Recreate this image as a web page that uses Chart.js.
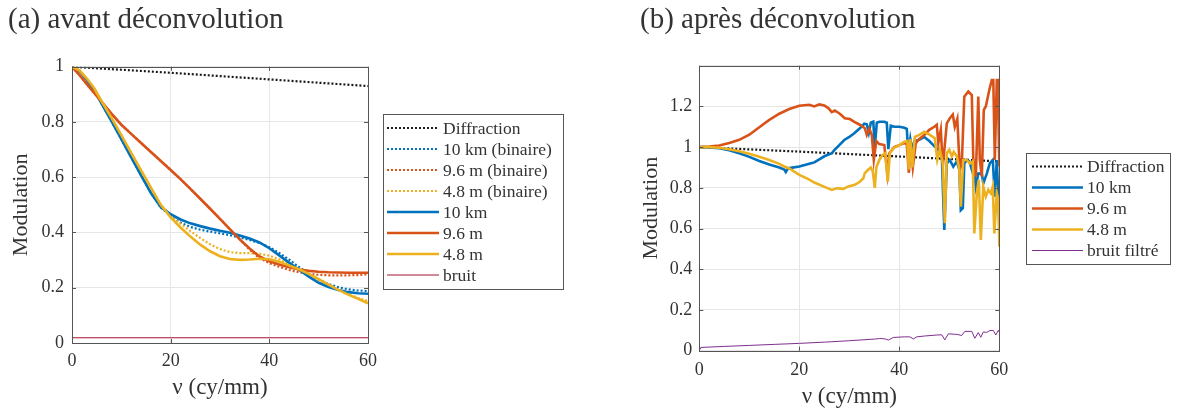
<!DOCTYPE html>
<html lang="fr">
<head>
<meta charset="utf-8">
<title>Modulation avant / après déconvolution</title>
<script src="https://cdn.jsdelivr.net/npm/chart.js@4.4.1/dist/chart.umd.min.js"></script>
<style>
  html, body { margin: 0; padding: 0; background: #fff; }
  #wrap { position: relative; width: 1180px; height: 408px; overflow: hidden; }
  .panel { position: absolute; top: 0; height: 408px; }
  #panelA { left: 0; width: 615px; }
  #panelB { left: 618px; width: 562px; }
</style>
</head>
<body>
<div id="wrap">
  <div class="panel" id="panelA"><canvas id="chartA"></canvas></div>
  <div class="panel" id="panelB"><canvas id="chartB"></canvas></div>
</div>
<script>
// ---- data (a) avant déconvolution ----
const diffX = [0, 10, 20, 30, 40, 50, 60];
const diffY = [1, 0.989, 0.978, 0.966, 0.954, 0.942, 0.930];

const leftX = [0, 1.5, 3, 4.5, 6, 8, 10, 12, 14, 16, 18, 20, 22, 24, 26, 28, 30, 32, 34, 36, 38, 40, 42, 44, 46, 48, 50, 52, 54, 56, 58, 60];
const a10kmBin = [1, 0.985, 0.952, 0.915, 0.866, 0.803, 0.738, 0.672, 0.607, 0.543, 0.49, 0.46, 0.436, 0.42, 0.41, 0.403, 0.397, 0.39, 0.382, 0.373, 0.362, 0.347, 0.326, 0.302, 0.275, 0.25, 0.23, 0.213, 0.202, 0.194, 0.19, 0.188];
const a96Bin   = [1, 0.97, 0.937, 0.905, 0.873, 0.83, 0.79, 0.757, 0.724, 0.691, 0.659, 0.626, 0.593, 0.558, 0.522, 0.486, 0.449, 0.412, 0.375, 0.338, 0.307, 0.289, 0.276, 0.264, 0.256, 0.25, 0.247, 0.245, 0.245, 0.245, 0.246, 0.249];
const a48Bin   = [1, 0.987, 0.957, 0.922, 0.875, 0.815, 0.752, 0.688, 0.625, 0.562, 0.5, 0.463, 0.432, 0.405, 0.38, 0.357, 0.34, 0.329, 0.325, 0.325, 0.323, 0.316, 0.303, 0.285, 0.266, 0.247, 0.228, 0.209, 0.192, 0.176, 0.163, 0.152];
const a10km    = [1, 0.985, 0.952, 0.915, 0.866, 0.803, 0.738, 0.672, 0.607, 0.543, 0.492, 0.466, 0.447, 0.433, 0.423, 0.414, 0.406, 0.399, 0.389, 0.378, 0.364, 0.343, 0.317, 0.291, 0.265, 0.24, 0.218, 0.203, 0.192, 0.184, 0.18, 0.178];
const a96      = [1, 0.97, 0.937, 0.905, 0.873, 0.83, 0.79, 0.757, 0.724, 0.691, 0.659, 0.626, 0.593, 0.558, 0.522, 0.486, 0.449, 0.412, 0.375, 0.342, 0.313, 0.296, 0.284, 0.274, 0.266, 0.261, 0.258, 0.256, 0.255, 0.254, 0.254, 0.254];
const a48      = [1, 0.987, 0.957, 0.922, 0.875, 0.815, 0.752, 0.688, 0.625, 0.562, 0.5, 0.455, 0.418, 0.385, 0.356, 0.332, 0.314, 0.304, 0.301, 0.302, 0.305, 0.303, 0.294, 0.281, 0.267, 0.25, 0.231, 0.211, 0.192, 0.175, 0.16, 0.144];
const noiseAX = [0, 60];
const noiseAY = [0.019, 0.019];

// ---- data (b) après déconvolution ----
const b10X = [0, 2, 4, 6, 8, 10, 12, 14, 16, 17, 17.3, 17.7, 18, 20, 22, 23, 24, 25, 26.5, 27, 28, 29, 30, 31, 32, 33, 33.5, 33.9, 34.3, 34.8, 35.1, 35.5, 36, 37, 37.5, 37.8, 38.3, 39, 40, 41, 41.5, 41.8, 42.2, 42.6, 43, 44, 45, 46, 47, 47.8, 48.5, 49, 49.5, 50.1, 50.8, 51.5, 52, 52.3, 52.7, 53, 53.5, 54, 54.5, 54.8, 55.3, 55.8, 56.5, 56.8, 57.5, 58.1, 58.7, 59.1, 59.5, 59.8, 60];
const b10Y = [1, 0.999, 0.995, 0.985, 0.97, 0.952, 0.932, 0.915, 0.9, 0.89, 0.878, 0.893, 0.897, 0.905, 0.918, 0.925, 0.94, 0.955, 0.97, 0.985, 1.01, 1.035, 1.05, 1.068, 1.09, 1.115, 1.112, 1.07, 1.12, 1.125, 1.0, 1.12, 1.125, 1.125, 1.12, 0.99, 1.105, 1.1, 1.1, 1.095, 1.09, 0.97, 1.04, 0.98, 1.03, 1.036, 1.05, 1.03, 1.005, 0.987, 0.96, 0.593, 0.92, 0.937, 0.904, 0.93, 0.89, 0.69, 0.7, 0.92, 0.937, 0.93, 0.89, 0.92, 0.806, 0.87, 0.871, 0.822, 0.87, 0.92, 0.937, 0.757, 0.937, 0.757, 0.626];

const b96X = [0, 2, 4, 6, 8, 10, 12, 14, 16, 18, 20, 22, 23, 24, 25, 25.8, 26.5, 27.1, 28.1, 29.1, 30.1, 31.1, 32.1, 33.1, 33.5, 34, 34.5, 34.9, 35.4, 36, 37, 37.6, 38, 39, 40, 41, 41.5, 41.9, 42.3, 42.7, 43.3, 44, 45, 46, 47, 47.5, 47.8, 48.3, 48.7, 49.5, 50.1, 50.7, 51.1, 51.6, 52.1, 52.5, 53, 53.8, 54.5, 54.8, 55.3, 55.8, 56.1, 56.5, 56.9, 57.3, 58, 58.5, 58.8, 59.1, 59.5, 59.7, 60];
const b96Y = [1, 1.003, 1.008, 1.02, 1.036, 1.061, 1.098, 1.134, 1.164, 1.187, 1.203, 1.208, 1.2, 1.21, 1.205, 1.192, 1.172, 1.18, 1.164, 1.142, 1.138, 1.123, 1.11, 1.093, 1.06, 1.09, 1.06, 0.938, 1.03, 1.015, 1.01, 0.87, 0.97, 1.0, 1.01, 1.02, 1.015, 0.874, 1.0, 0.9, 1.02, 1.04, 1.06, 1.085, 1.1, 1.11, 1.02, 1.085, 0.905, 1.117, 1.142, 1.16, 1.1, 1.14, 0.888, 0.92, 1.248, 1.273, 1.256, 0.937, 0.855, 1.248, 0.94, 0.855, 1.183, 1.2, 1.281, 1.33, 1.33, 0.937, 1.33, 1.33, 0.905];

const b48X = [0, 2, 4, 6, 8, 10, 12, 14, 16, 17, 18, 20, 22, 23, 24.8, 26.5, 27.5, 28.8, 29.8, 31.1, 32.1, 32.8, 33.1, 33.8, 34.3, 34.7, 35.1, 35.4, 36, 36.6, 37.2, 37.7, 38.1, 38.8, 40, 41, 41.6, 41.9, 42.2, 42.6, 43.1, 44, 45, 46.1, 47.1, 47.6, 48.1, 48.7, 49.1, 49.5, 50, 50.5, 50.9, 51.5, 52, 52.3, 52.8, 53.5, 54.1, 54.7, 55, 55.5, 55.9, 56.3, 56.8, 57.3, 57.8, 58.3, 58.7, 59, 59.5, 59.8, 60];
const b48Y = [1, 1, 0.997, 0.99, 0.98, 0.968, 0.953, 0.937, 0.918, 0.905, 0.895, 0.864, 0.84, 0.826, 0.807, 0.79, 0.798, 0.795, 0.807, 0.815, 0.83, 0.847, 0.872, 0.89, 0.9, 0.88, 0.8, 0.9, 0.937, 0.96, 0.97, 0.83, 0.97, 0.995, 1.01, 1.027, 1.03, 0.89, 1.04, 0.9, 1.05, 1.06, 1.075, 1.06, 1.044, 0.937, 0.987, 0.92, 0.626, 0.97, 0.987, 0.955, 0.977, 0.955, 0.89, 0.708, 0.937, 0.937, 0.92, 0.93, 0.576, 0.773, 0.839, 0.544, 0.806, 0.757, 0.79, 0.773, 0.806, 0.576, 0.773, 0.74, 0.511];

const noiseBX = [0, 0.3, 5, 10, 15, 20, 25, 30, 35, 36.1, 37.2, 37.8, 38.8, 41, 42.1, 42.8, 43.5, 45, 47.5, 48.5, 49.1, 49.8, 51.5, 52.5, 53.1, 54.5, 55.1, 55.8, 56.3, 56.8, 57.5, 58.1, 58.8, 59.3, 59.8, 60];
const noiseBY = [0, 0.016, 0.021, 0.026, 0.031, 0.036, 0.042, 0.049, 0.057, 0.06, 0.058, 0.052, 0.065, 0.068, 0.068, 0.058, 0.068, 0.072, 0.077, 0.078, 0.053, 0.083, 0.08, 0.075, 0.095, 0.095, 0.061, 0.089, 0.066, 0.092, 0.09, 0.099, 0.1, 0.077, 0.1, 0.09];

const BLUE = '#0072BD', RED = '#D95319', YELLOW = '#EDB120', DARKRED = '#A2142F', PURPLE = '#7E2F8E';
const TEXT = '#333333';
const SERIF = "'Liberation Serif', 'DejaVu Serif', serif";
const DOT = [2, 2];

Chart.defaults.font.family = SERIF;
Chart.defaults.color = TEXT;

function pts(xs, ys) {
  return xs.map((x, i) => ({ x: x, y: ys[i] }));
}

function line(label, xs, ys, color, width, dash) {
  return {
    label: label,
    data: pts(xs, ys),
    borderColor: color,
    borderWidth: width,
    borderDash: dash || [],
    borderCapStyle: 'butt',
    pointRadius: 0,
    fill: false,
    tension: 0
  };
}

// axes box with inward ticks, drawn over the curves
const frameBox = {
  id: 'frameBox',
  afterDatasetsDraw(chart) {
    const { ctx, chartArea: a, scales } = chart;
    const len = 4;
    ctx.save();
    ctx.strokeStyle = '#555';
    ctx.lineWidth = 1;
    ctx.strokeRect(Math.round(a.left) + 0.5, Math.round(a.top) + 0.5,
      Math.round(a.right - a.left), Math.round(a.bottom - a.top));
    ctx.beginPath();
    scales.x.ticks.forEach(t => {
      const px = Math.round(scales.x.getPixelForValue(t.value)) + 0.5;
      ctx.moveTo(px, a.bottom); ctx.lineTo(px, a.bottom - len);
      ctx.moveTo(px, a.top); ctx.lineTo(px, a.top + len);
    });
    scales.y.ticks.forEach(t => {
      const py = Math.round(scales.y.getPixelForValue(t.value)) + 0.5;
      ctx.moveTo(a.left, py); ctx.lineTo(a.left + len, py);
      ctx.moveTo(a.right, py); ctx.lineTo(a.right - len, py);
    });
    ctx.stroke();
    ctx.restore();
  }
};

// MATLAB-like boxed legend beside the axes
const boxLegend = {
  id: 'boxLegend',
  afterDraw(chart, args, o) {
    const ctx = chart.ctx;
    const sets = chart.data.datasets;
    ctx.save();
    ctx.font = o.fontSize + 'px ' + SERIF;
    let maxW = 0;
    sets.forEach(ds => { maxW = Math.max(maxW, ctx.measureText(ds.label).width); });
    const w = Math.round(o.textX + maxW + o.padRight);
    const h = Math.round(sets.length * o.rowH + o.padY * 2);
    ctx.fillStyle = '#fff';
    ctx.fillRect(o.x, o.y, w, h);
    ctx.strokeStyle = '#555';
    ctx.lineWidth = 1;
    ctx.strokeRect(o.x + 0.5, o.y + 0.5, w, h);
    sets.forEach((ds, i) => {
      const cy = o.y + o.padY + o.rowH * (i + 0.5);
      ctx.beginPath();
      ctx.setLineDash(ds.borderDash);
      ctx.lineWidth = ds.borderWidth;
      ctx.strokeStyle = ds.borderColor;
      ctx.moveTo(o.x + o.lineX0, cy);
      ctx.lineTo(o.x + o.lineX1, cy);
      ctx.stroke();
      ctx.setLineDash([]);
      ctx.fillStyle = TEXT;
      ctx.textBaseline = 'middle';
      ctx.fillText(ds.label, o.x + o.textX, cy + 1);
    });
    ctx.restore();
  }
};

function makeOptions(p) {
  return {
    responsive: true,
    maintainAspectRatio: false,
    animation: false,
    layout: { padding: { left: p.padLeft, right: p.padRight, top: 0, bottom: 0 } },
    plugins: {
      legend: { display: false },
      tooltip: { enabled: false },
      title: {
        display: true,
        text: p.title,
        align: 'start',
        color: TEXT,
        font: { size: 29, weight: 'normal', lineHeight: 1.2 },
        padding: { top: 3, bottom: p.titleBottom }
      },
      boxLegend: p.legend
    },
    scales: {
      x: {
        type: 'linear',
        min: 0, max: 60,
        border: { display: false },
        grid: { color: '#e6e6e6', drawTicks: false },
        ticks: { stepSize: 20, padding: p.xTickPad, color: TEXT, font: { size: 18 } },
        title: {
          display: true, text: 'ν (cy/mm)', color: TEXT,
          font: { size: 23, lineHeight: 1 },
          padding: { top: 0, bottom: p.xTitlePad }
        },
        afterFit(s) { s.height = p.xHeight; }
      },
      y: {
        min: 0, max: p.yMax,
        border: { display: false },
        grid: { color: '#e6e6e6', drawTicks: false },
        ticks: {
          stepSize: 0.2, padding: p.yTickPad, color: TEXT, font: { size: 18 },
          callback: v => (v > p.yLastLabel + 1e-6 ? '' : String(Math.round(v * 10) / 10))
        },
        title: {
          display: true, text: 'Modulation', color: TEXT,
          font: { size: 22, lineHeight: 1 },
          padding: { top: p.yTitlePad, bottom: 0 }
        },
        afterFit(s) { s.width = p.yWidth; }
      }
    }
  };
}

function ordered(list) {
  list.forEach((ds, i) => { ds.order = -i; });
  return list;
}

document.addEventListener('DOMContentLoaded', function () {
  const setsA = ordered([
    line('Diffraction', diffX, diffY, '#1a1a1a', 2.2, DOT),
    line('10 km (binaire)', leftX, a10kmBin, BLUE, 2.2, DOT),
    line('9.6 m (binaire)', leftX, a96Bin, RED, 2.2, DOT),
    line('4.8 m (binaire)', leftX, a48Bin, YELLOW, 2.2, DOT),
    line('10 km', leftX, a10km, BLUE, 2.6),
    line('9.6 m', leftX, a96, RED, 2.6),
    line('4.8 m', leftX, a48, YELLOW, 2.6),
    line('bruit', noiseAX, noiseAY, DARKRED, 1)
  ]);

  const setsB = ordered([
    line('Diffraction', diffX, diffY, '#1a1a1a', 2.2, DOT),
    line('10 km', b10X, b10Y, BLUE, 2.6),
    line('9.6 m', b96X, b96Y, RED, 2.6),
    line('4.8 m', b48X, b48Y, YELLOW, 2.6),
    line('bruit filtré', noiseBX, noiseBY, PURPLE, 1)
  ]);

  new Chart(document.getElementById('chartA'), {
    type: 'line',
    data: { datasets: setsA },
    plugins: [frameBox, boxLegend],
    options: makeOptions({
      title: '(a) avant déconvolution',
      padLeft: 8, padRight: 247, titleBottom: 28.9,
      yMax: 1, yLastLabel: 1,
      xHeight: 65, xTickPad: 7, xTitlePad: 9,
      yWidth: 64, yTickPad: 8, yTitlePad: 2,
      legend: { x: 383, y: 114, rowH: 21, padY: 3.5, lineX0: 4, lineX1: 56, textX: 60, padRight: 11, fontSize: 17.5 }
    })
  });

  new Chart(document.getElementById('chartB'), {
    type: 'line',
    data: { datasets: setsB },
    plugins: [frameBox, boxLegend],
    options: makeOptions({
      title: '(b) après déconvolution',
      padLeft: 22, padRight: 180.7, titleBottom: 27.9,
      yMax: 1.4, yLastLabel: 1.2,
      xHeight: 57.3, xTickPad: 9, xTitlePad: 0,
      yWidth: 59.3, yTickPad: 7, yTitlePad: 0,
      legend: { x: 408, y: 153, rowH: 21, padY: 3, lineX0: 6, lineX1: 57, textX: 61, padRight: 6, fontSize: 17.5 }
    })
  });
});
</script>
</body>
</html>
